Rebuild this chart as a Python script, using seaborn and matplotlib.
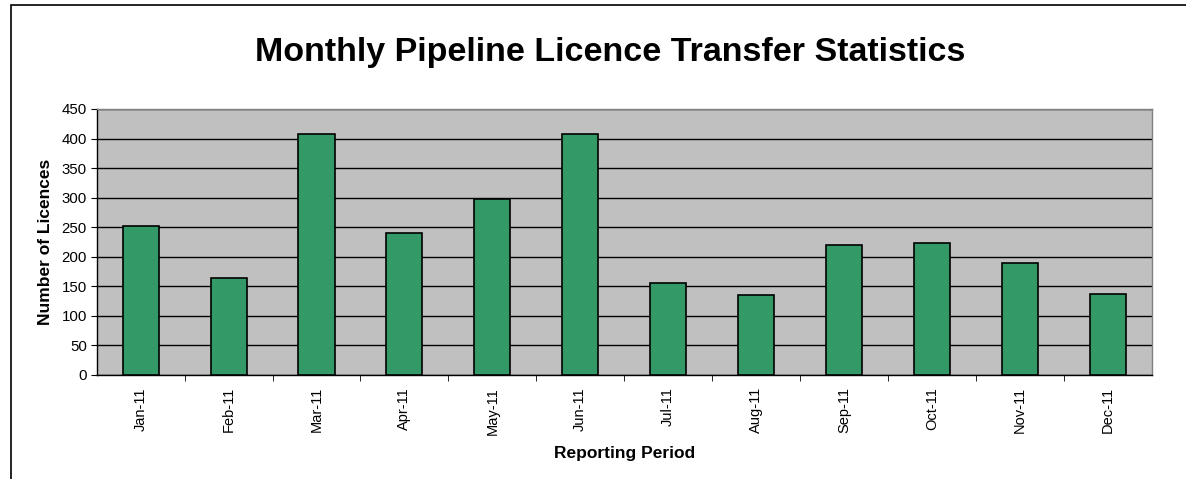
import matplotlib
matplotlib.use("Agg")
import matplotlib.pyplot as plt
import seaborn as sns
import numpy as np
from matplotlib.patches import Rectangle
from matplotlib.ticker import FixedLocator

months = ["Jan-11", "Feb-11", "Mar-11", "Apr-11", "May-11", "Jun-11",
          "Jul-11", "Aug-11", "Sep-11", "Oct-11", "Nov-11", "Dec-11"]
licences = [251, 164, 407, 240, 298, 408, 155, 135, 220, 223, 190, 137]
yticks = [0, 50, 100, 150, 200, 250, 300, 350, 400, 450]

sns.set_style("white")
plt.rcParams['font.family'] = ['Liberation Sans', 'DejaVu Sans']
plt.rcParams['text.color'] = 'black'
plt.rcParams['axes.labelcolor'] = 'black'
plt.rcParams['xtick.color'] = 'black'
plt.rcParams['ytick.color'] = 'black'

W, H = 1186, 479
fig = plt.figure(figsize=(W / 100, H / 100), dpi=100)
ax = fig.add_axes([96.7 / W, 1 - 374.7 / H, (1151.7 - 96.7) / W, (374.7 - 109) / H])

# figure border
fig.patches.append(Rectangle((11 / W, -0.1), 1.2, 1 - 5 / H + 0.1, transform=fig.transFigure,
                             fill=False, edgecolor='black', linewidth=1.2))

ax.set_facecolor('#C0C0C0')
sns.barplot(x=months, y=licences, color='#339966', edgecolor='black', linewidth=1.2,
            width=0.41, saturation=1, ax=ax, zorder=3)
ax.set_axisbelow(True)
ax.set_ylim(0, 450)
ax.set_xlim(-0.5, len(months) - 0.5)
ax.set_yticks(yticks)
ax.yaxis.grid(True, color='black', linewidth=1.0)
ax.xaxis.grid(False)

ax.tick_params(axis='x', which='major', length=0, pad=9, labelsize=10.5, labelrotation=90)
ax.xaxis.set_minor_locator(FixedLocator(np.arange(0.5, len(months) - 0.5, 1)))
ax.tick_params(axis='x', which='minor', length=4, direction='out', color='black', bottom=True)
ax.tick_params(axis='y', length=4, direction='out', color='black', left=True, labelsize=10.8, pad=3)

for s in ['left', 'bottom']:
    ax.spines[s].set_color('black')
    ax.spines[s].set_linewidth(1.0)
for s in ['top', 'right']:
    ax.spines[s].set_color('#808080')
    ax.spines[s].set_linewidth(1.0)

ax.set_xlabel("Reporting Period", fontsize=12.5, fontweight='bold', labelpad=8)
ax.set_ylabel("Number of Licences", fontsize=12.5, fontweight='bold', labelpad=6)
fig.text(610 / W, 1 - 53 / H, "Monthly Pipeline Licence Transfer Statistics",
         ha='center', va='center', fontsize=24.5, fontweight='bold')

fig.savefig("out.png", dpi=100, facecolor='white')
